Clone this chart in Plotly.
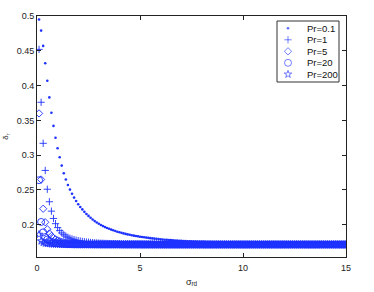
import plotly.graph_objects as go

# x grid (sigma_rd)
X = [0.1, 0.2, 0.3, 0.4, 0.5, 0.6, 0.7, 0.8, 0.9, 1.0,
     1.1, 1.2, 1.3, 1.4, 1.5, 1.6, 1.7, 1.8, 1.9, 2.0,
     2.1, 2.2, 2.3, 2.4, 2.5, 2.6, 2.7, 2.8, 2.9, 3.0,
     3.1, 3.2, 3.3, 3.4, 3.5, 3.6, 3.7, 3.8, 3.9, 4.0,
     4.1, 4.2, 4.3, 4.4, 4.5, 4.6, 4.7, 4.8, 4.9, 5.0,
     5.1, 5.2, 5.3, 5.4, 5.5, 5.6, 5.7, 5.8, 5.9, 6.0,
     6.1, 6.2, 6.3, 6.4, 6.5, 6.6, 6.7, 6.8, 6.9, 7.0,
     7.1, 7.2, 7.3, 7.4, 7.5, 7.6, 7.7, 7.8, 7.9, 8.0,
     8.1, 8.2, 8.3, 8.4, 8.5, 8.6, 8.7, 8.8, 8.9, 9.0,
     9.1, 9.2, 9.3, 9.4, 9.5, 9.6, 9.7, 9.8, 9.9, 10.0,
     10.1, 10.2, 10.3, 10.4, 10.5, 10.6, 10.7, 10.8, 10.9, 11.0,
     11.1, 11.2, 11.3, 11.4, 11.5, 11.6, 11.7, 11.8, 11.9, 12.0,
     12.1, 12.2, 12.3, 12.4, 12.5, 12.6, 12.7, 12.8, 12.9, 13.0,
     13.1, 13.2, 13.3, 13.4, 13.5, 13.6, 13.7, 13.8, 13.9, 14.0,
     14.1, 14.2, 14.3, 14.4, 14.5, 14.6, 14.7, 14.8, 14.9, 15.0]

PR_01 = [.495, .479, .457, .432, .407, .383, .361, .342, .325, .310,
         .297, .285, .274, .265, .257, .2505, .2445, .239, .234, .2295,
         .2255, .222, .2185, .2155, .2127, .21, .2075, .2052, .2032, .2013,
         .1996, .198, .1966, .1953, .1941, .193, .192, .191, .19, .1891,
         .1883, .1875, .1868, .1861, .1855, .1849, .1843, .1838, .1833, .1828,
         .1823, .1819, .1815, .1811, .1807, .1803, .18, .1797, .1794, .1791,
         .1788, .1785, .1783, .178, .1778, .1776, .1774, .1772, .177, .1768,
         .1766, .1764, .1763, .1761, .176, .1758, .1757, .1756, .1755, .1754,
         .1753, .1752, .1751, .175, .1749, .1748, .1747, .1747, .1746, .1745,
         .1745, .1744, .1744, .1743, .1743, .1742, .1742, .1741, .1741, .1741,
         .174, .174, .174, .174, .174, .174, .174, .174, .174, .174,
         .174, .174, .174, .174, .174, .1739, .1739, .1739, .1739, .1739,
         .1739, .1739, .1739, .1739, .1739, .1739, .1739, .1739, .1739, .1739,
         .1738, .1738, .1738, .1738, .1738, .1738, .1738, .1738, .1738, .1738,
         .1738, .1738, .1738, .1738, .1738, .1738, .1738, .1738, .1738, .1738]

PR_1 = [.452, .376, .317, .278, .251, .233, .2195, .209, .2015, .1958,
        .1915, .1882, .1856, .1836, .182, .1806, .1795, .1786, .1778, .1771,
        .1765, .176, .1755, .1751, .1748, .1745, .1742, .174, .1738, .1736,
        .1734, .1733, .1731, .173, .1729, .1728, .1727, .1726, .1725, .1724,
        .1723, .1723, .1722, .1722, .1721, .1721, .172, .172, .172, .1719,
        .1719, .1719, .1718, .1718, .1718, .1718, .1717, .1717, .1717, .1717,
        .1716, .1716, .1716, .1716, .1716, .1716, .1716, .1716, .1716, .1716,
        .1716, .1716, .1716, .1716, .1716, .1716, .1716, .1716, .1716, .1716,
        .1715, .1715, .1715, .1715, .1715, .1715, .1715, .1715, .1715, .1715,
        .1715, .1715, .1715, .1715, .1715, .1715, .1715, .1715, .1715, .1715,
        .1715, .1715, .1715, .1715, .1715, .1715, .1715, .1715, .1715, .1715,
        .1715, .1715, .1715, .1715, .1715, .1715, .1715, .1715, .1715, .1715,
        .1715, .1715, .1715, .1715, .1715, .1715, .1715, .1715, .1715, .1715,
        .1715, .1715, .1715, .1715, .1715, .1715, .1715, .1715, .1715, .1715,
        .1715, .1715, .1715, .1715, .1715, .1715, .1715, .1715, .1715, .1715]

PR_5 = [.360, .265, .223, .2035, .1935, .1875, .1837, .181, .179, .1775,
        .1764, .1755, .1748, .1742, .1737, .1733, .173, .1727, .1725, .1723,
        .1722, .1721, .172, .1719, .1719, .1718, .1718, .1717, .1717, .1717,
        .1716, .1716, .1716, .1716, .1716, .1716, .1716, .1716, .1716, .1716,
        .1716, .1716, .1716, .1716, .1716, .1716, .1716, .1716, .1716, .1716,
        .1715, .1715, .1715, .1715, .1715, .1715, .1715, .1715, .1715, .1715,
        .1715, .1715, .1715, .1715, .1715, .1715, .1715, .1715, .1715, .1715,
        .1715, .1715, .1715, .1715, .1715, .1715, .1715, .1715, .1715, .1715,
        .1715, .1715, .1715, .1715, .1715, .1715, .1715, .1715, .1715, .1715,
        .1715, .1715, .1715, .1715, .1715, .1715, .1715, .1715, .1715, .1715,
        .1715, .1715, .1715, .1715, .1715, .1715, .1715, .1715, .1715, .1715,
        .1715, .1715, .1715, .1715, .1715, .1715, .1715, .1715, .1715, .1715,
        .1715, .1715, .1715, .1715, .1715, .1715, .1715, .1715, .1715, .1715,
        .1715, .1715, .1715, .1715, .1715, .1715, .1715, .1715, .1715, .1715,
        .1715, .1715, .1715, .1715, .1715, .1715, .1715, .1715, .1715, .1715]

PR_20 = [.264, .204, .189, .1823, .1787, .1767, .1754, .1745, .1739, .1734,
         .173, .1727, .1725, .1723, .1721, .172, .1719, .1718, .1718, .1717,
         .1717, .1717, .1717, .1717, .1717, .1716, .1716, .1716, .1716, .1716,
         .1716, .1716, .1716, .1716, .1716, .1716, .1716, .1716, .1716, .1716,
         .1715, .1715, .1715, .1715, .1715, .1715, .1715, .1715, .1715, .1715,
         .1715, .1715, .1715, .1715, .1715, .1715, .1715, .1715, .1715, .1715,
         .1715, .1715, .1715, .1715, .1715, .1715, .1715, .1715, .1715, .1715,
         .1715, .1715, .1715, .1715, .1715, .1715, .1715, .1715, .1715, .1715,
         .1715, .1715, .1715, .1715, .1715, .1715, .1715, .1715, .1715, .1715,
         .1715, .1715, .1715, .1715, .1715, .1715, .1715, .1715, .1715, .1715,
         .1715, .1715, .1715, .1715, .1715, .1715, .1715, .1715, .1715, .1715,
         .1715, .1715, .1715, .1715, .1715, .1715, .1715, .1715, .1715, .1715,
         .1715, .1715, .1715, .1715, .1715, .1715, .1715, .1715, .1715, .1715,
         .1715, .1715, .1715, .1715, .1715, .1715, .1715, .1715, .1715, .1715,
         .1715, .1715, .1715, .1715, .1715, .1715, .1715, .1715, .1715, .1715]

PR_200 = [.186, .1765, .1745, .1735, .1729, .1726, .1723, .1721, .172, .1719,
          .1718, .1718, .1717, .1717, .1717, .1716, .1716, .1716, .1716, .1716,
          .1715, .1715, .1715, .1715, .1715, .1715, .1715, .1715, .1715, .1715,
          .1715, .1715, .1715, .1715, .1715, .1715, .1715, .1715, .1715, .1715,
          .1715, .1715, .1715, .1715, .1715, .1715, .1715, .1715, .1715, .1715,
          .1715, .1715, .1715, .1715, .1715, .1715, .1715, .1715, .1715, .1715,
          .1715, .1715, .1715, .1715, .1715, .1715, .1715, .1715, .1715, .1715,
          .1715, .1715, .1715, .1715, .1715, .1715, .1715, .1715, .1715, .1715,
          .1715, .1715, .1715, .1715, .1715, .1715, .1715, .1715, .1715, .1715,
          .1715, .1715, .1715, .1715, .1715, .1715, .1715, .1715, .1715, .1715,
          .1715, .1715, .1715, .1715, .1715, .1715, .1715, .1715, .1715, .1715,
          .1715, .1715, .1715, .1715, .1715, .1715, .1715, .1715, .1715, .1715,
          .1715, .1715, .1715, .1715, .1715, .1715, .1715, .1715, .1715, .1715,
          .1715, .1715, .1715, .1715, .1715, .1715, .1715, .1715, .1715, .1715,
          .1715, .1715, .1715, .1715, .1715, .1715, .1715, .1715, .1715, .1715]

LABELS = ["Pr=0.1", "Pr=1", "Pr=5", "Pr=20", "Pr=200"]
SERIES = [PR_01, PR_1, PR_5, PR_20, PR_200]
X_TICKS = [0, 5, 10, 15]
Y_TICKS = [0.2, 0.25, 0.3, 0.35, 0.4, 0.45, 0.5]

BLUE = "rgb(30,50,255)"
SYMBOLS = ["circle", "cross-thin-open", "diamond-open", "circle-open", "star-open"]
SIZES = [2.6, 5.2, 5.6, 7, 5.6]

W, H = 374, 292
L, R, T, B = 37, 28, 16, 35

fig = go.Figure()
for name, ys, sym, sz in zip(LABELS, SERIES, SYMBOLS, SIZES):
    mk = dict(symbol=sym, size=sz, color=BLUE)
    if sym != "circle":
        mk["line"] = dict(color=BLUE, width=0.9)
    else:
        mk["line"] = dict(width=0)
    fig.add_trace(go.Scatter(x=X, y=ys, mode="markers", name=name,
                             marker=mk, showlegend=False, cliponaxis=True))

# custom legend (overlay axes in plot-area fractions)
pw, ph = W - L - R, H - T - B
def px2x(px):
    return (px - L) / pw
def py2y(py):
    return (H - B - py) / ph

rows = [28.3, 39.8, 51.3, 62.8, 74.3]
fig.add_trace(go.Scatter(
    x=[px2x(288)] * 5, y=[py2y(r) for r in rows], mode="markers",
    xaxis="x2", yaxis="y2", showlegend=False, hoverinfo="skip",
    marker=dict(symbol=SYMBOLS, size=SIZES, color=BLUE,
                line=dict(color=BLUE, width=[0, 0.9, 0.9, 0.9, 0.9]))))

fig.add_shape(type="rect", xref="paper", yref="paper",
              x0=px2x(277), x1=px2x(339), y0=py2y(82), y1=py2y(21),
              line=dict(color="#333", width=1), fillcolor="white", layer="below")
for lab, r in zip(LABELS, rows):
    fig.add_annotation(xref="paper", yref="paper", x=px2x(305), y=py2y(r),
                       text=lab, showarrow=False, xanchor="left", yanchor="middle",
                       font=dict(size=9.5, color="#111", family="Liberation Sans"))

axis_common = dict(showgrid=False, zeroline=False, showline=True, mirror="ticks",
                   linecolor="#222", linewidth=1, ticks="inside", ticklen=4,
                   tickcolor="#222", automargin=False,
                   tickfont=dict(size=9, color="#222", family="Liberation Sans"))
fig.update_layout(
    width=W, height=H, margin=dict(l=L, r=R, t=T, b=B),
    paper_bgcolor="white", plot_bgcolor="white",
    xaxis=dict(range=[0, 15], tickvals=X_TICKS, ticktext=[str(v) for v in X_TICKS],
               ticklabelstandoff=2,
               title=dict(text="σ<sub>rd</sub>", standoff=6,
                          font=dict(size=9, color="#222", family="Liberation Sans")),
               **axis_common),
    yaxis=dict(range=[0.1536, 0.5], tickvals=Y_TICKS,
               ticktext=["0.2", "0.25", "0.3", "0.35", "0.4", "0.45", "0.5"],
               title=dict(text="δ<sub>r</sub>", standoff=6,
                          font=dict(size=8, color="#222", family="Liberation Sans")),
               **axis_common),
    xaxis2=dict(overlaying="x", range=[0, 1], visible=False),
    yaxis2=dict(overlaying="y", range=[0, 1], visible=False),
    font=dict(family="Liberation Sans"),
)
fig.write_html("out.html", config={"displayModeBar": False},
               post_script="document.body.style.margin='0';document.body.style.padding='0';")
